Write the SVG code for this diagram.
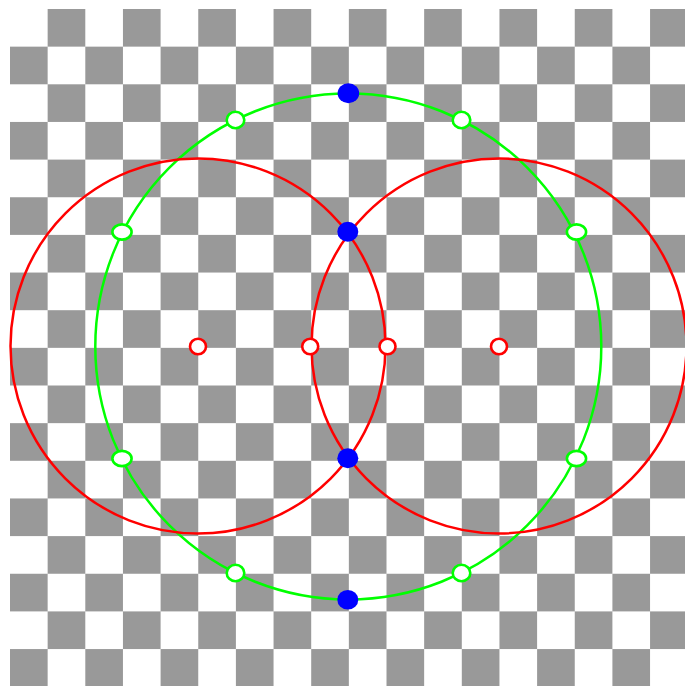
<svg xmlns="http://www.w3.org/2000/svg" width="685" height="686" viewBox="0 0 685 686">
  <defs>
    <pattern id="checker" patternUnits="userSpaceOnUse" x="10" y="9" width="75.3" height="75.3">
      <rect x="37.65" y="0" width="37.65" height="37.65" fill="#999999"/>
      <rect x="0" y="37.65" width="37.65" height="37.65" fill="#999999"/>
    </pattern>
    <style>
      .big-red { fill: none; stroke: #ff0000; stroke-width: 2.5; }
      .big-green { fill: none; stroke: #00ff00; stroke-width: 2.5; }
      .pt-red { fill: #ffffff; stroke: #ff0000; stroke-width: 2.6; }
      .pt-green { fill: #ffffff; stroke: #00ff00; stroke-width: 2.6; }
      .pt-blue { fill: #0000ff; stroke: none; }
    </style>
  </defs>
  <rect x="0" y="0" width="685" height="686" fill="#ffffff"/>
  <rect id="board" x="10" y="9" width="675" height="677" fill="url(#checker)"/>

  <g id="connectors">
    <circle id="green-circle" class="big-green" cx="348.3" cy="346.5" r="253"/>
    <circle id="red-circle-left" class="big-red" cx="198" cy="346" r="187.5"/>
    <circle id="red-circle-right" class="big-red" cx="499" cy="346" r="187.5"/>
  </g>

  <g id="red-points">
    <g id="r1"><ellipse class="pt-red" cx="198" cy="346.5" rx="8" ry="7.8"/></g>
    <g id="r2"><ellipse class="pt-red" cx="310.2" cy="346.5" rx="8" ry="7.8"/></g>
    <g id="r3"><ellipse class="pt-red" cx="387.5" cy="346.5" rx="8" ry="7.8"/></g>
    <g id="r4"><ellipse class="pt-red" cx="499" cy="346.5" rx="8" ry="7.8"/></g>
  </g>

  <g id="green-points">
    <g id="g1"><ellipse class="pt-green" cx="235.5" cy="120" rx="8.8" ry="8.2"/></g>
    <g id="g2"><ellipse class="pt-green" cx="461.5" cy="120" rx="8.8" ry="8.2"/></g>
    <g id="g3"><ellipse class="pt-green" cx="122" cy="232" rx="9.6" ry="7.6"/></g>
    <g id="g4"><ellipse class="pt-green" cx="576.5" cy="232" rx="9.6" ry="7.6"/></g>
    <g id="g5"><ellipse class="pt-green" cx="122" cy="458.5" rx="9.6" ry="7.6"/></g>
    <g id="g6"><ellipse class="pt-green" cx="576.5" cy="458.5" rx="9.6" ry="7.6"/></g>
    <g id="g7"><ellipse class="pt-green" cx="235.5" cy="573" rx="8.8" ry="8.2"/></g>
    <g id="g8"><ellipse class="pt-green" cx="461.5" cy="573" rx="8.8" ry="8.2"/></g>
  </g>

  <g id="blue-points">
    <g id="b1"><ellipse class="pt-blue" cx="348.4" cy="93.3" rx="10.8" ry="10"/></g>
    <g id="b2"><ellipse class="pt-blue" cx="347.8" cy="231.7" rx="10.5" ry="10"/></g>
    <g id="b3"><ellipse class="pt-blue" cx="347.8" cy="458.3" rx="10.5" ry="10"/></g>
    <g id="b4"><ellipse class="pt-blue" cx="347.8" cy="599.7" rx="10.5" ry="9.8"/></g>
  </g>
</svg>
